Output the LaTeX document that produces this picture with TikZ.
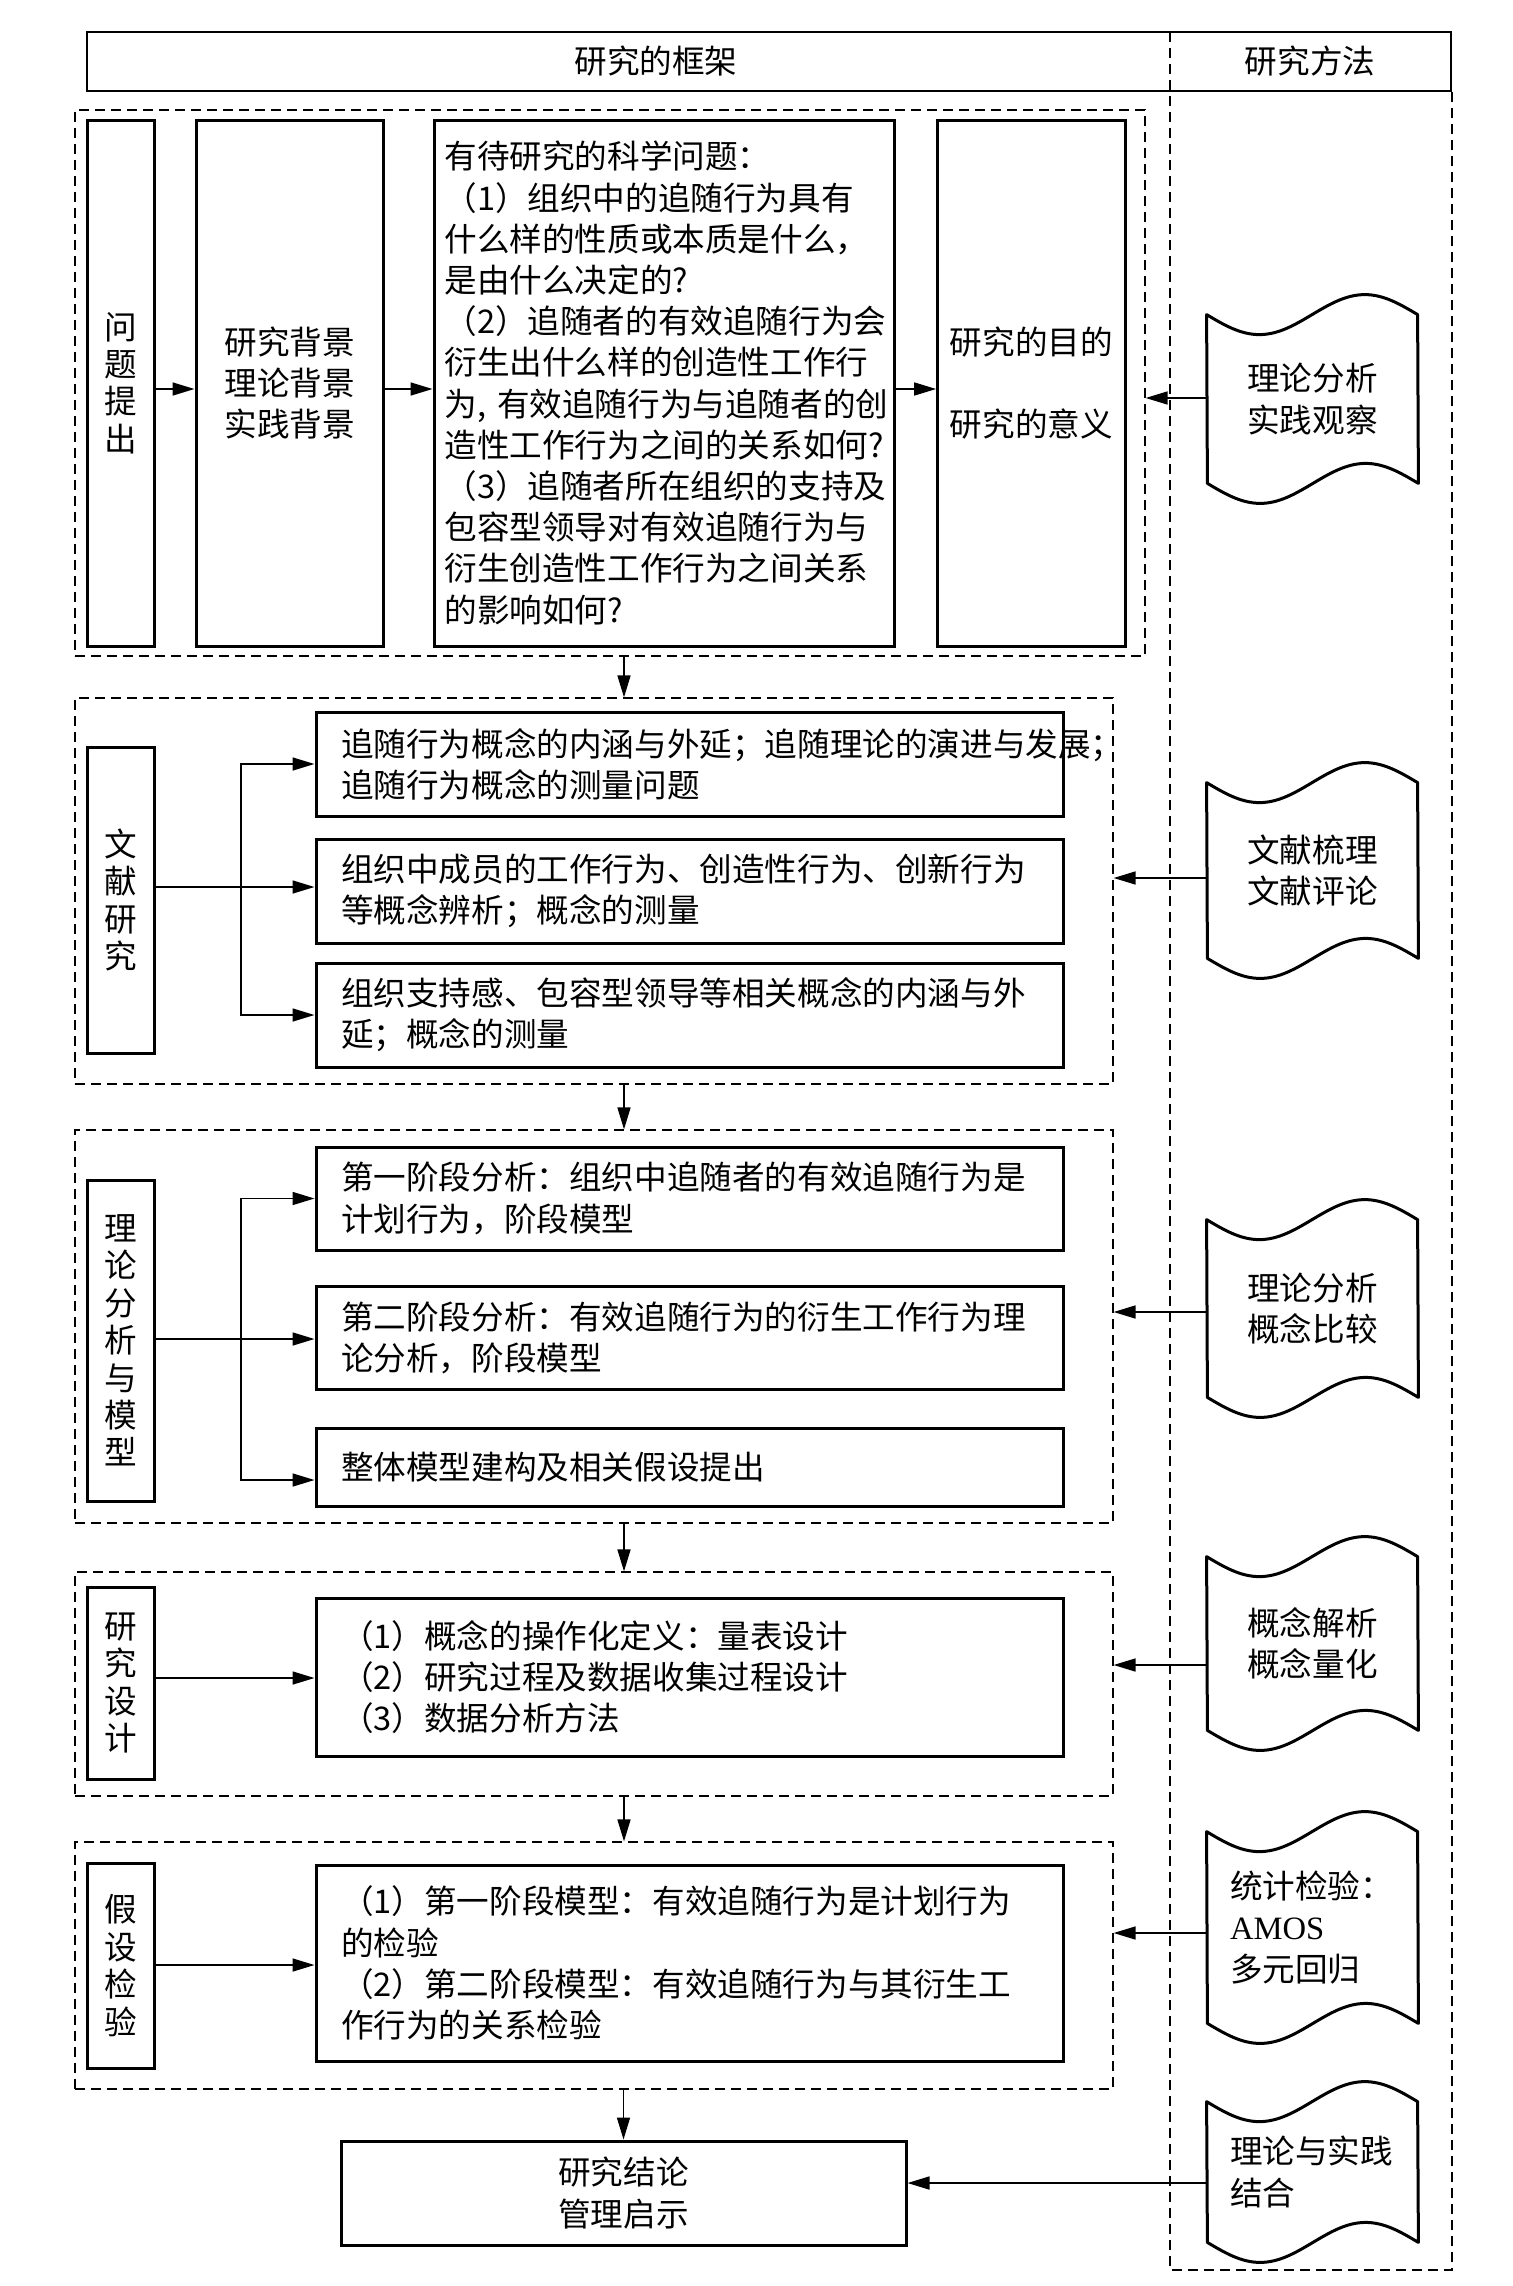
\documentclass[tikz,border=0pt]{standalone}
\usepackage{fontspec}
\setmainfont{Liberation Serif}
\newfontfamily\cjk{Noto Sans CJK SC}
\usetikzlibrary{arrows.meta}
\newcommand\tapeoutline[1]{\draw[line width=1.5pt,line join=round] (#1.north west) sin ++(52.75,20) cos ++(52.75,-20) sin ++(52.75,-20) cos ++(52.75,20) -- (#1.south east) sin ++(-52.75,-20) cos ++(-52.75,20) sin ++(-52.75,20) cos ++(-52.75,-20) -- cycle;}
\tikzset{
  wh/.style 2 args={minimum width=#1*0.5pt, minimum height=#2*0.5pt},
  cjkfont/.style={font=\cjk\fontsize{16.3}{20.6}\selectfont},
  box/.style={draw, line width=1.5pt, rectangle, inner sep=0pt, cjkfont},
  cbox/.style={box, align=center},
  vbox/.style={box, align=center, font=\cjk\fontsize{16.3}{18.7}\selectfont},
  txtbox/.style={box, align=left, text width=348.5pt, inner xsep=12.5pt},
  sect/.style={draw, line width=0.6pt, dash pattern=on 5pt off 3pt, rectangle, inner sep=0pt},
  colline/.style={line width=0.6pt, dash pattern=on 5pt off 3pt},
  arr/.style={-{Triangle[length=11pt,width=6.5pt]}, line width=0.8pt},
  tp/.style={inner sep=0pt, wh={211}{#1}, cjkfont, align=center},
  lbl/.style={inner sep=0pt, cjkfont}
}
\begin{document}
\begin{tikzpicture}[x=0.5pt,y=-0.5pt]
\fill[white] (0,0) rectangle (1512,2286);
\useasboundingbox (0,0) rectangle (1512,2286);

% header and method column
\node[draw, line width=1.3pt, rectangle, inner sep=0pt, wh={1364}{59}] (hdr) at (769,61.5) {};
\node[lbl] (h1) at (656,61) {研究的框架};
\node[lbl] (h2) at (1310,61) {研究方法};
\coordinate (c1) at (1170,32);
\coordinate (c2) at (1170,2270);
\coordinate (c3) at (1452,2270);
\coordinate (c4) at (1452,91);
\draw[colline] (c1) -- (c2) -- (c3) -- (c4);

% section frames
\node[sect, wh={1070}{546}] (s1) at (610,383) {};
\node[sect, wh={1038}{386}] (s2) at (594,891) {};
\node[sect, wh={1038}{393}] (s3) at (594,1326.5) {};
\node[sect, wh={1038}{224}] (s4) at (594,1684) {};
\node[sect, wh={1038}{247}] (s5) at (594,1965.5) {};

% section 1
\node[vbox, wh={67}{526}] (p1) at (121,383) {问\\题\\提\\出};
\node[cbox, wh={187.6}{526}] (p2) at (289.8,383) {研究背景\\理论背景\\实践背景};
\node[box, align=left, text width=219.5pt, inner xsep=5.25pt, wh={460}{526}] (p3) at (664,383) {有待研究的科学问题：\\（1）组织中的追随行为具有\\什么样的性质或本质是什么，\\是由什么决定的?\\（2）追随者的有效追随行为会\\衍生出什么样的创造性工作行\\为,~有效追随行为与追随者的创\\造性工作行为之间的关系如何?\\（3）追随者所在组织的支持及\\包容型领导对有效追随行为与\\衍生创造性工作行为之间关系\\的影响如何?};
\node[cbox, wh={187.4}{526}] (p4) at (1031.3,383) {研究的目的\\[20.6pt]研究的意义};
\draw[arr] (p1.east |- 0,389) -- (p2.west |- 0,389);
\draw[arr] (p2.east |- 0,389) -- (p3.west |- 0,389);
\draw[arr] (p3.east |- 0,389) -- (p4.west |- 0,389);

% section 2
\node[vbox, wh={67}{306}] (l2) at (121,900) {文\\献\\研\\究};
\node[txtbox, wh={747}{104}] (b21) at (689.5,764) {追随行为概念的内涵与外延；追随理论的演进与发展；\\追随行为概念的测量问题};
\node[txtbox, wh={747}{104}] (b22) at (689.5,891) {组织中成员的工作行为、创造性行为、创新行为\\等概念辨析；概念的测量};
\node[txtbox, wh={747}{104}] (b23) at (689.5,1015) {组织支持感、包容型领导等相关概念的内涵与外\\延；概念的测量};
\coordinate (j2) at (241,887);
\draw[arr] (l2.east |- j2) -- (b22.west |- j2);
\draw[arr] (j2) |- (b21.west);
\draw[arr] (j2) |- (b23.west);

% section 3
\node[vbox, wh={67}{321}] (l3) at (121,1340.5) {理\\论\\分\\析\\与\\模\\型};
\node[txtbox, wh={747}{103}] (b31) at (689.5,1198.5) {第一阶段分析：组织中追随者的有效追随行为是\\计划行为，阶段模型};
\node[txtbox, wh={747}{103.5}] (b32) at (689.5,1338) {第二阶段分析：有效追随行为的衍生工作行为理\\论分析，阶段模型};
\node[txtbox, wh={747}{78}] (b33) at (689.5,1467) {整体模型建构及相关假设提出};
\coordinate (j3) at (241,1339);
\draw[arr] (l3.east |- j3) -- (b32.west |- j3);
\draw[arr] (j3) |- (b31.west);
\draw[arr] (j3) |- (b33.west |- 0,1480);

% section 4
\node[vbox, wh={67}{192}] (l4) at (121,1683) {研\\究\\设\\计};
\node[txtbox, wh={747}{158}] (b4) at (689.5,1677) {（1）概念的操作化定义：量表设计\\（2）研究过程及数据收集过程设计\\（3）数据分析方法};
\draw[arr] (l4.east |- 0,1678) -- (b4.west |- 0,1678);

% section 5
\node[vbox, wh={67}{205}] (l5) at (121,1965.5) {假\\设\\检\\验};
\node[txtbox, wh={747}{196}] (b5) at (689.5,1963) {（1）第一阶段模型：有效追随行为是计划行为\\的检验\\（2）第二阶段模型：有效追随行为与其衍生工\\作行为的关系检验};
\draw[arr] (l5.east |- 0,1965) -- (b5.west |- 0,1965);

% conclusion
\node[cbox, wh={565}{104}] (fin) at (623.5,2193) {研究结论\\管理启示};

% arrows between sections
\draw[arr] (s1.south -| 624,0) -- (s2.north -| 624,0);
\draw[arr] (s2.south -| 624,0) -- (s3.north -| 624,0);
\draw[arr] (s3.south -| 624,0) -- (s4.north -| 624,0);
\draw[arr] (s4.south -| 624,0) -- (s5.north -| 624,0);
\draw[arr] (s5.south -| fin.north) -- (fin.north);

% method tapes
\node[tp={168}] (t1) at (1312.5,399) {理论分析\\实践观察};
\node[tp={175}] (t2) at (1312.5,870.5) {文献梳理\\文献评论};
\node[tp={177}] (t3) at (1312.5,1308.5) {理论分析\\概念比较};
\node[tp={173}] (t4) at (1312.5,1643.5) {概念解析\\概念量化};
\node[tp={191}, align=left, text width=82.5pt, inner xsep=11.5pt] (t5) at (1312.5,1927.5) {统计检验：\\{\rmfamily AMOS}\\多元回归};
\node[tp={140}, align=left, text width=82.5pt, inner xsep=11.5pt] (t6) at (1312.5,2172) {理论与实践\\结合};
\tapeoutline{t1}
\tapeoutline{t2}
\tapeoutline{t3}
\tapeoutline{t4}
\tapeoutline{t5}
\tapeoutline{t6}

\draw[arr] (t1.west |- 0,398) -- (s1.east |- 0,398);
\draw[arr] (t2.west |- 0,878) -- (s2.east |- 0,878);
\draw[arr] (t3.west |- 0,1312) -- (s3.east |- 0,1312);
\draw[arr] (t4.west |- 0,1665) -- (s4.east |- 0,1665);
\draw[arr] (t5.west |- 0,1933) -- (s5.east |- 0,1933);
\draw[arr] (t6.west |- 0,2183) -- (fin.east |- 0,2183);
\end{tikzpicture}
\end{document}
